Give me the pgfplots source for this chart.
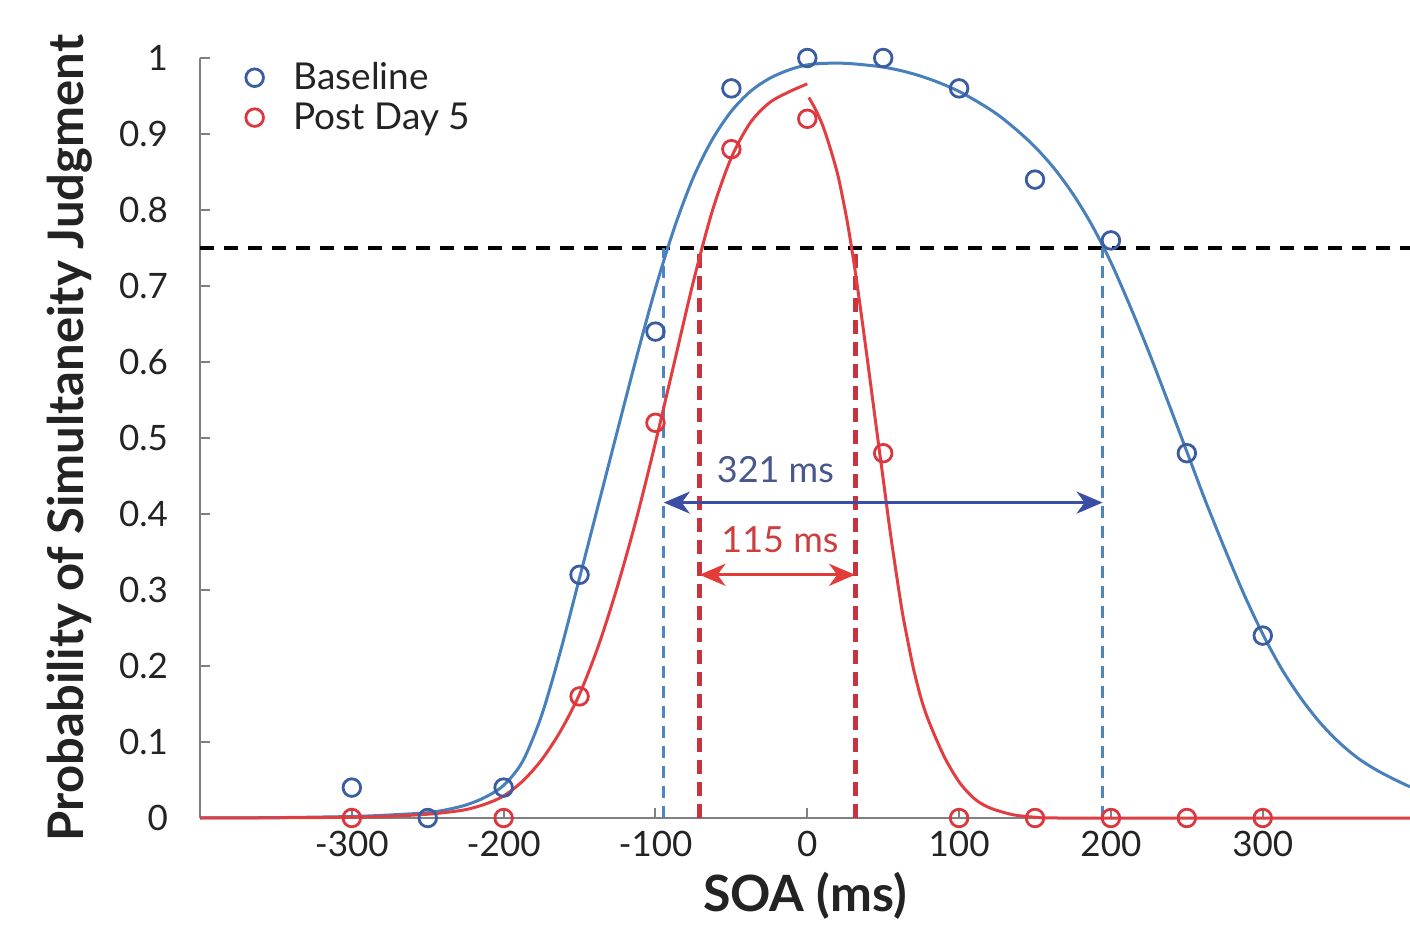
\documentclass[border=0pt]{standalone}
\usepackage{fontspec}
\setmainfont{Lato}
\usepackage{pgfplots}
\pgfplotsset{compat=1.18}
\usetikzlibrary{arrows.meta,calc}
\definecolor{bluecurve}{RGB}{72,128,188}
\definecolor{bluemark}{RGB}{58,92,160}
\definecolor{bluedash}{RGB}{78,132,192}
\definecolor{bluearrow}{RGB}{58,78,165}
\definecolor{bluetext}{RGB}{72,88,140}
\definecolor{redcurve}{RGB}{226,62,66}
\definecolor{redmark}{RGB}{220,55,62}
\definecolor{reddash}{RGB}{200,52,62}
\definecolor{redarrow}{RGB}{225,60,55}
\definecolor{redtext}{RGB}{205,62,62}
\definecolor{axisgray}{RGB}{128,128,128}
\definecolor{tickcol}{RGB}{35,35,35}
\begin{document}
\begin{tikzpicture}
\begin{axis}[
  width=605pt, height=380pt, scale only axis,
  xmin=-400, xmax=397, ymin=0, ymax=1,
  axis x line*=bottom, axis y line*=left,
  axis line style={axisgray, line width=1pt},
  clip=false,
  xtick={-300,-200,-100,0,100,200,300},
  xticklabels={-300,-200,-100,0,100,200,300},
  ytick={0,0.1,0.2,0.3,0.4,0.5,0.6,0.7,0.8,0.9,1},
  yticklabels={0,0.1,0.2,0.3,0.4,0.5,0.6,0.7,0.8,0.9,1},
  tick align=inside, major tick length=5pt,
  tick style={axisgray, line width=1pt},
  ticklabel style={font=\fontsize{17.5}{21}\selectfont, text=tickcol},
  /pgf/number format/assume math mode=true,
  xticklabel style={yshift=-3pt},
  yticklabel style={xshift=-12.5pt},
  xlabel={SOA (ms)},
  ylabel={Probability of Simultaneity Judgment},
  xlabel style={at={(axis description cs:0.5,-0.102)}, anchor=center, font=\bfseries\fontsize{25}{28}\selectfont, text=tickcol},
  ylabel style={at={(axis description cs:-0.1075,0.5)}, anchor=center, font=\bfseries\fontsize{24.5}{28}\selectfont, text=tickcol},
  legend style={at={(axis cs:-374,1.005)}, anchor=north west, draw=none, fill=none,
    font=\fontsize{18.5}{21}\selectfont, text=tickcol, row sep=1pt, column sep=13pt},
  legend cell align=left,
]
\coordinate (bl) at (rel axis cs:0,0);
\coordinate (tr) at (rel axis cs:1,1);
\addlegendimage{only marks, mark=o, mark size=4.4pt, line width=1.4pt, color=bluemark}
\addlegendentry{Baseline}
\addlegendimage{only marks, mark=o, mark size=4.4pt, line width=1.4pt, color=redmark}
\addlegendentry{Post Day 5}

% threshold line
\addplot[forget plot, black, line width=2pt, dash pattern=on 7pt off 5pt] coordinates {(-400,0.75) (397,0.75)};
% vertical dashed lines
\addplot[forget plot, bluedash, line width=1.6pt, dash pattern=on 6pt off 4pt] coordinates {(-94.5,0) (-94.5,0.75)};
\addplot[forget plot, bluedash, line width=1.6pt, dash pattern=on 6pt off 4pt] coordinates {(194.5,0) (194.5,0.75)};
\addplot[forget plot, reddash, line width=2.4pt, dash pattern=on 7pt off 4pt] coordinates {(-71,0) (-71,0.75)};
\addplot[forget plot, reddash, line width=2.4pt, dash pattern=on 7pt off 4pt] coordinates {(31.5,0) (31.5,0.75)};

% Baseline fit
\addplot[forget plot, bluecurve, line width=1.5pt, smooth, tension=0.5] coordinates {
(-400,0) (-350,0.0005) (-300,0.002) (-275,0.004) (-250,0.007) (-237.5,0.011) (-225,0.017)
(-212.5,0.027) (-200,0.043) (-187.5,0.0745) (-175,0.135) (-162.5,0.22) (-150,0.316)
(-137.5,0.413) (-125,0.51) (-112.5,0.606) (-100,0.697) (-87.5,0.777) (-75,0.843)
(-62.5,0.893) (-50,0.93) (-37.5,0.956) (-25,0.973) (-12.5,0.984) (0,0.991)
(12.5,0.993) (25,0.993) (37.5,0.991) (50,0.988) (62.5,0.983) (75,0.976) (87.5,0.967)
(100,0.956) (112.5,0.942) (125,0.926) (137.5,0.906) (150,0.883) (162.5,0.855)
(175,0.821) (187.5,0.78) (200,0.731) (212.5,0.674) (225,0.613) (237.5,0.548)
(250,0.482) (262.5,0.416) (275,0.354) (287.5,0.295) (300,0.242) (312.5,0.196)
(325,0.158) (337.5,0.126) (350,0.10) (362.5,0.079) (375,0.063) (387.5,0.05) (397,0.041)};

% Post Day 5 fit, left branch
\addplot[forget plot, redcurve, line width=1.5pt, smooth, tension=0.5] coordinates {
(-400,0) (-350,0.0003) (-300,0.001) (-275,0.0022) (-250,0.005) (-237.5,0.0075)
(-225,0.011) (-212.5,0.018) (-200,0.029) (-187.5,0.0485) (-175,0.0765) (-162.5,0.1145)
(-150,0.163) (-137.5,0.227) (-125,0.305) (-112.5,0.394) (-100,0.494) (-87.5,0.600)
(-75,0.706) (-62.5,0.799) (-50,0.869) (-37.5,0.915) (-25,0.941) (-12.5,0.955) (0,0.966)};
% Post Day 5 fit, right branch
\addplot[forget plot, redcurve, line width=1.5pt, smooth, tension=0.5] coordinates {
(1,0.948) (5,0.934) (10,0.912) (15,0.882) (20,0.847) (24,0.809) (27,0.777) (31,0.727)
(35,0.671) (40,0.597) (45,0.521) (50,0.446) (55,0.371) (62,0.278) (66,0.235) (70,0.196)
(75,0.157) (80,0.1275) (90,0.0815) (100,0.0475) (110,0.0255) (120,0.0135) (135,0.0045)
(150,0.001) (165,0) (250,0) (397,0)};

% arrows
\addplot[forget plot, bluearrow, line width=1.6pt, {Stealth[length=13pt,width=11pt,inset=4pt]}-{Stealth[length=13pt,width=11pt,inset=4pt]}] coordinates {(-94.5,0.415) (194.5,0.415)};
\addplot[forget plot, redarrow, line width=1.6pt, {Stealth[length=13pt,width=11pt,inset=4pt]}-{Stealth[length=13pt,width=11pt,inset=4pt]}] coordinates {(-71,0.32) (31.5,0.32)};
\node[text=bluetext, font=\fontsize{18}{20}\selectfont] at (axis cs:-21,0.458) {321 ms};
\node[text=redtext, font=\fontsize{18}{20}\selectfont] at (axis cs:-18,0.366) {115 ms};

% data
\addplot[forget plot, only marks, mark=o, mark size=4.4pt, line width=1.4pt, color=bluemark] coordinates {
(-300,0.04) (-250,0) (-200,0.04) (-150,0.32) (-100,0.64) (-50,0.96) (0,1) (50,1)
(100,0.96) (150,0.84) (200,0.76) (250,0.48) (300,0.24)};
\addplot[forget plot, only marks, mark=o, mark size=4.4pt, line width=1.4pt, color=redmark] coordinates {
(-300,0) (-200,0) (-150,0.16) (-100,0.52) (-50,0.88) (0,0.92) (50,0.48)
(100,0) (150,0) (200,0) (250,0) (300,0)};
\end{axis}
\pgfresetboundingbox
\path[use as bounding box] ($(bl)+(-100pt,-53pt)$) rectangle ($(tr)+(0pt,29pt)$);
\end{tikzpicture}
\end{document}
